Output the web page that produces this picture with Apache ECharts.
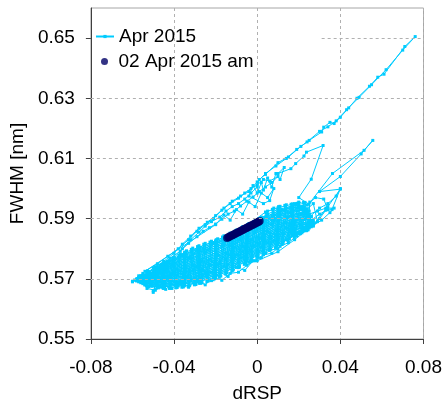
<!DOCTYPE html>
<html><head><meta charset="utf-8">
<script src="https://cdn.jsdelivr.net/npm/echarts@6/dist/echarts.min.js"></script>
<style>html,body{margin:0;padding:0;background:#fff}#c{width:445px;height:408px}</style>
</head><body><div id="c"></div>
<script>
const seriesNames = ['Apr 2015', '02 Apr 2015 am'];
const xTicks = [-0.08, -0.04, 0, 0.04, 0.08];
const yTicks = [0.55, 0.57, 0.59, 0.61, 0.63, 0.65];
const yGridFull = [0.57, 0.59, 0.61, 0.63];
const yGridTop = [[0.031, 0.65], [0.08, 0.65]];

// Apr 2015 (light blue), [dRSP, FWHM]
const aprPoints = [
[-0.020,0.576],[-0.025,0.572],[-0.030,0.574],[-0.035,0.570],[-0.040,0.572],[-0.045,0.569],[-0.050,0.566],[-0.047,0.570],[-0.052,0.572],[-0.056,0.571],[-0.060,0.569],
[-0.058,0.5695],[-0.054,0.5680],[-0.050,0.5700],[-0.046,0.5672],[-0.042,0.5698],[-0.038,0.5676],[-0.034,0.5705],[-0.030,0.5682],[-0.026,0.5712],[-0.022,0.5694],[-0.018,0.5722],[-0.014,0.5708],[-0.010,0.5738],[-0.006,0.5728],[-0.002,0.5760],[0.002,0.5770],[0.006,0.5795],[0.010,0.5800],[0.014,0.5830],[0.018,0.5845],[0.022,0.5868],[0.026,0.5880],[0.029,0.5890],
[0.027,0.5950],[0.023,0.5925],[0.019,0.5935],[0.015,0.5905],[0.011,0.5915],[0.007,0.5880],[0.003,0.5892],[-0.001,0.5855],[-0.005,0.5868],[-0.009,0.5830],[-0.013,0.5842],[-0.017,0.5808],[-0.021,0.5818],[-0.025,0.5788],[-0.029,0.5795],[-0.033,0.5768],[-0.037,0.5775],[-0.041,0.5750],[-0.045,0.5752],[-0.049,0.5730],[-0.053,0.5722],[-0.057,0.5710],[-0.060,0.5692],
[-0.0550,0.5718],[-0.0535,0.5684],[-0.0520,0.5724],[-0.0505,0.5675],[-0.0490,0.5740],[-0.0475,0.5670],[-0.0460,0.5748],[-0.0445,0.5668],[-0.0430,0.5758],[-0.0415,0.5669],[-0.0400,0.5772],[-0.0385,0.5671],[-0.0370,0.5783],[-0.0355,0.5673],[-0.0340,0.5793],[-0.0325,0.5677],[-0.0310,0.5802],[-0.0295,0.5681],[-0.0280,0.5810],[-0.0265,0.5687],[-0.0250,0.5818],[-0.0235,0.5693],[-0.0220,0.5825],[-0.0205,0.5700],[-0.0190,0.5833],[-0.0175,0.5709],[-0.0160,0.5843],[-0.0145,0.5720],[-0.0130,0.5852],[-0.0115,0.5730],[-0.0100,0.5862],[-0.0085,0.5741],[-0.0070,0.5873],[-0.0055,0.5753],[-0.0040,0.5884],[-0.0025,0.5763],[-0.0010,0.5892],[0.0005,0.5774],[0.0020,0.5905],[0.0035,0.5786],[0.0050,0.5925],[0.0065,0.5798],[0.0080,0.5935],[0.0095,0.5808],[0.0110,0.5941],[0.0125,0.5820],[0.0140,0.5946],[0.0155,0.5832],[0.0170,0.5949],[0.0185,0.5843],[0.0200,0.5952],[0.0215,0.5853],[0.0230,0.5954],[0.0245,0.5863],
[0.0253,0.5955],[0.0238,0.5860],[0.0223,0.5954],[0.0208,0.5850],[0.0193,0.5951],[0.0178,0.5838],[0.0163,0.5948],[0.0148,0.5827],[0.0133,0.5944],[0.0118,0.5815],[0.0103,0.5940],[0.0088,0.5803],[0.0073,0.5931],[0.0058,0.5794],[0.0043,0.5918],[0.0028,0.5782],[0.0013,0.5898],[-0.0002,0.5771],[-0.0017,0.5889],[-0.0032,0.5758],[-0.0047,0.5880],[-0.0062,0.5748],[-0.0077,0.5868],[-0.0092,0.5737],[-0.0107,0.5858],[-0.0122,0.5726],[-0.0137,0.5848],[-0.0152,0.5716],[-0.0167,0.5839],[-0.0182,0.5705],[-0.0197,0.5830],[-0.0212,0.5697],[-0.0227,0.5822],[-0.0242,0.5691],[-0.0257,0.5815],[-0.0272,0.5685],[-0.0287,0.5807],[-0.0302,0.5680],[-0.0317,0.5798],[-0.0332,0.5675],[-0.0347,0.5789],[-0.0362,0.5672],[-0.0377,0.5778],[-0.0392,0.5670],[-0.0407,0.5768],[-0.0422,0.5668],[-0.0437,0.5755],[-0.0452,0.5668],[-0.0467,0.5745],[-0.0482,0.5671],[-0.0497,0.5737],[-0.0512,0.5678],[-0.0527,0.5727],[-0.0542,0.5688],
[-0.052,0.5674],[-0.035,0.5677],[-0.020,0.5706],[-0.005,0.5759],[0.010,0.5814],[0.022,0.5858],
[0.024,0.5863],[0.010,0.5820],[-0.005,0.5765],[-0.020,0.5712],[-0.035,0.5683],[-0.053,0.5677],
[-0.054,0.5680],[-0.035,0.5688],[-0.020,0.5717],[-0.005,0.5770],[0.010,0.5826],[0.023,0.5867],
[0.025,0.5872],[0.010,0.5832],[-0.005,0.5776],[-0.020,0.5724],[-0.035,0.5694],[-0.055,0.5684],
[-0.056,0.5687],[-0.035,0.5698],[-0.020,0.5729],[-0.005,0.5781],[0.010,0.5837],[0.024,0.5876],
[0.026,0.5880],[0.010,0.5844],[-0.005,0.5788],[-0.020,0.5735],[-0.035,0.5704],[-0.057,0.5690],
[-0.058,0.5693],[-0.035,0.5709],[-0.020,0.5740],[-0.005,0.5793],[0.010,0.5849],[0.025,0.5884],
[0.027,0.5889],[0.010,0.5856],[-0.005,0.5799],[-0.020,0.5747],[-0.035,0.5715],[-0.058,0.5696],
[-0.057,0.5699],[-0.035,0.5719],[-0.020,0.5752],[-0.005,0.5804],[0.010,0.5861],[0.026,0.5893],
[0.025,0.5898],[0.010,0.5867],[-0.005,0.5810],[-0.020,0.5758],[-0.035,0.5725],[-0.056,0.5703],
[-0.055,0.5706],[-0.035,0.5730],[-0.020,0.5763],[-0.005,0.5815],[0.010,0.5872],[0.024,0.5902],
[0.026,0.5907],[0.010,0.5879],[-0.005,0.5821],[-0.020,0.5770],[-0.035,0.5735],[-0.054,0.5710],
[-0.053,0.5713],[-0.035,0.5740],[-0.020,0.5775],[-0.005,0.5826],[0.010,0.5884],[0.025,0.5911],
[0.024,0.5916],[0.010,0.5891],[-0.005,0.5833],[-0.020,0.5781],[-0.035,0.5746],[-0.052,0.5716],
[-0.051,0.5719],[-0.035,0.5751],[-0.020,0.5786],[-0.005,0.5838],[0.010,0.5896],[0.023,0.5920],
[0.025,0.5925],[0.010,0.5902],[-0.005,0.5844],[-0.020,0.5793],[-0.035,0.5756],[-0.050,0.5722],
[-0.049,0.5726],[-0.035,0.5761],[-0.020,0.5798],[-0.005,0.5849],[0.010,0.5908],[0.022,0.5929],
[0.024,0.5933],[0.010,0.5914],[-0.005,0.5855],[-0.020,0.5804],[-0.035,0.5767],[-0.048,0.5732],
[-0.047,0.5736],[-0.035,0.5771],[-0.020,0.5810],[-0.005,0.5860],[0.010,0.5919],[0.021,0.5937],
[0.022,0.5942],[0.010,0.5926],[-0.005,0.5866],[-0.020,0.5816],[-0.035,0.5777],[-0.045,0.5745],
[-0.044,0.5750],[-0.035,0.5782],[-0.020,0.5821],[-0.005,0.5871],[0.005,0.5915],[0.010,0.5931],[0.020,0.5946],
[0.018,0.5950],[0.010,0.5936],[0.004,0.5922],[-0.005,0.5876],[-0.020,0.5826],[-0.035,0.5787],[-0.042,0.5760],
[-0.054,0.5687],[-0.045,0.5673],[-0.028,0.5690],[-0.012,0.5735],[0.003,0.5792],[0.017,0.5844],[0.023,0.5865],
[0.025,0.5869],[0.017,0.5849],[0.003,0.5798],[-0.012,0.5741],[-0.028,0.5696],[-0.045,0.5676],[-0.055,0.5689],
[-0.056,0.5691],[-0.045,0.5680],[-0.028,0.5701],[-0.012,0.5747],[0.003,0.5803],[0.017,0.5854],[0.026,0.5873],
[0.024,0.5878],[0.017,0.5859],[0.003,0.5809],[-0.012,0.5752],[-0.028,0.5707],[-0.045,0.5684],[-0.057,0.5693],
[-0.058,0.5694],[-0.045,0.5688],[-0.028,0.5713],[-0.012,0.5758],[0.003,0.5814],[0.017,0.5864],[0.027,0.5882],
[0.025,0.5886],[0.017,0.5869],[0.003,0.5820],[-0.012,0.5764],[-0.028,0.5719],[-0.045,0.5692],[-0.059,0.5696],
[-0.057,0.5698],[-0.045,0.5695],[-0.028,0.5724],[-0.012,0.5770],[0.003,0.5826],[0.017,0.5874],[0.026,0.5890],
[0.027,0.5894],[0.017,0.5879],[0.003,0.5831],[-0.012,0.5775],[-0.028,0.5730],[-0.045,0.5699],[-0.056,0.5700],
[-0.055,0.5702],[-0.045,0.5703],[-0.028,0.5736],[-0.012,0.5781],[0.003,0.5837],[0.017,0.5884],[0.025,0.5899],
[0.024,0.5903],[0.017,0.5890],[0.003,0.5842],[-0.012,0.5787],[-0.028,0.5741],[-0.045,0.5707],[-0.057,0.5703],
[-0.056,0.5705],[-0.045,0.5710],[-0.028,0.5747],[-0.012,0.5793],[0.003,0.5848],[0.017,0.5895],[0.026,0.5907],
[0.025,0.5911],[0.017,0.5900],[0.003,0.5854],[-0.012,0.5798],[-0.028,0.5753],[-0.045,0.5714],[-0.054,0.5707],
[-0.053,0.5709],[-0.045,0.5718],[-0.028,0.5759],[-0.012,0.5804],[0.003,0.5859],[0.017,0.5905],[0.024,0.5915],
[0.023,0.5920],[0.017,0.5910],[0.003,0.5865],[-0.012,0.5810],[-0.028,0.5764],[-0.045,0.5722],[-0.052,0.5711],
[-0.051,0.5712],[-0.045,0.5726],[-0.028,0.5770],[-0.012,0.5816],[0.003,0.5871],[0.017,0.5915],[0.024,0.5924],
[0.022,0.5928],[0.017,0.5920],[0.003,0.5876],[-0.012,0.5821],[-0.028,0.5776],[-0.045,0.5729],[-0.050,0.5714],
[-0.049,0.5720],[-0.045,0.5733],[-0.028,0.5781],[-0.012,0.5827],[0.003,0.5882],[0.017,0.5925],[0.023,0.5932],
[0.022,0.5936],[0.017,0.5930],[0.003,0.5887],[-0.012,0.5833],[-0.028,0.5787],[-0.045,0.5737],[-0.048,0.5725],
[-0.047,0.5732],[-0.040,0.5760],[-0.028,0.5793],[-0.012,0.5839],[0.003,0.5893],[0.017,0.5935],[0.021,0.5940],
[0.020,0.5944],[0.017,0.5940],[0.003,0.5899],[-0.012,0.5844],[-0.028,0.5799],[-0.040,0.5765],[-0.046,0.5740],
[-0.044,0.5752],[-0.028,0.5804],[-0.012,0.5849],[0.003,0.5904],[0.017,0.5944],[0.019,0.5948],
[-0.055,0.5700],[-0.051,0.5715],[-0.047,0.5700],[-0.043,0.5728],[-0.039,0.5712],[-0.035,0.5742],[-0.031,0.5725],[-0.027,0.5760],[-0.023,0.5745],[-0.019,0.5780],[-0.015,0.5765],[-0.011,0.5805],[-0.007,0.5790],[-0.003,0.5830],[0.001,0.5815],[0.005,0.5858],[0.009,0.5845],[0.013,0.5888],[0.017,0.5875],[0.021,0.5915],[0.025,0.5905],[0.030,0.5935],[0.034,0.5950],[0.038,0.5975],[0.040,0.6000],
[0.036,0.5930],[0.033,0.5928],[0.030,0.5900],[0.027,0.5875],[0.024,0.5880],[0.020,0.5850],[0.016,0.5860],[0.012,0.5815],[0.008,0.5828],[0.004,0.5785],[0.000,0.5798],[-0.004,0.5755],[-0.008,0.5770],[-0.012,0.5728],[-0.016,0.5742],[-0.020,0.5702],[-0.024,0.5718],[-0.028,0.5685],[-0.032,0.5700],[-0.036,0.5675],[-0.040,0.5690],[-0.044,0.5665],[-0.048,0.5675],[-0.050,0.5655],
[-0.047,0.5735],[-0.044,0.5755],[-0.040,0.5745],[-0.036,0.5780],[-0.032,0.5768],[-0.028,0.5805],[-0.024,0.5795],[-0.020,0.5825],[-0.016,0.5815],[-0.012,0.5850],[-0.008,0.5842],[-0.004,0.5878],[0.000,0.5868],[0.004,0.5905],[0.008,0.5895],[0.012,0.5930],[0.016,0.5920],[0.020,0.5955],[0.024,0.5945],[0.028,0.5970],[0.032,0.5965],[0.034,0.5930],
[0.030,0.5915],[0.026,0.5895],[0.022,0.5898],[0.018,0.5865],[0.014,0.5870],[0.010,0.5835],[0.006,0.5840],[0.002,0.5805],[-0.002,0.5810],[-0.006,0.5775],[-0.010,0.5780],[-0.014,0.5748],[-0.018,0.5752],[-0.022,0.5722],[-0.026,0.5728],[-0.030,0.5700],[-0.034,0.5708],[-0.038,0.5688],[-0.042,0.5712],[-0.046,0.5690],[-0.052,0.5705],[-0.056,0.5695],
[-0.053,0.5668],[-0.049,0.5662],[-0.045,0.5678],[-0.041,0.5668],[-0.037,0.5690],[-0.033,0.5672],[-0.029,0.5695],[-0.025,0.5680],[-0.021,0.5705],[-0.017,0.5695],[-0.013,0.5718],[-0.009,0.5722],[-0.005,0.5745],[-0.001,0.5760],[0.003,0.5780],[0.007,0.5785],[0.011,0.5808],[0.015,0.5820],[0.019,0.5842],[0.023,0.5860],[0.027,0.5878],[0.031,0.5895],[0.035,0.5920],[0.037,0.5935],[0.033,0.5935],
[0.029,0.5925],[0.025,0.5915],[0.021,0.5880],[0.017,0.5895],[0.013,0.5850],[0.009,0.5862],[0.005,0.5820],[0.001,0.5835],[-0.003,0.5792],[-0.007,0.5808],[-0.011,0.5768],[-0.015,0.5785],[-0.019,0.5745],[-0.023,0.5765],[-0.027,0.5728],[-0.031,0.5745],[-0.035,0.5712],[-0.039,0.5732],[-0.043,0.5705],[-0.047,0.5722],[-0.051,0.5690],[-0.055,0.5712],
[-0.058,0.5700],[-0.050,0.5715],[-0.044,0.5745],[-0.040,0.5770],[-0.036,0.5800],[-0.032,0.5830],[-0.028,0.5855],[-0.025,0.5875],[-0.022,0.5890],[-0.018,0.5905],[-0.015,0.5925],[-0.012,0.5940],[-0.009,0.5950],[-0.006,0.5965],[-0.003,0.5985],[0.000,0.6005],[0.001,0.6030],[0.004,0.6047],[0.010,0.6086],[0.015,0.6105],[0.021,0.6140],[0.025,0.6160],[0.031,0.6188],[0.032,0.6204],[0.035,0.6220],[0.037,0.6216],[0.040,0.6237],[0.044,0.6268],[0.048,0.6300],[0.054,0.6340],[0.058,0.6370],[0.061,0.6380],[0.071,0.6472],[0.076,0.6505],
[0.070,0.6460],[0.062,0.6395],[0.055,0.6345],[0.049,0.6303],[0.043,0.6262],[0.038,0.6225],[0.034,0.6205],[0.030,0.6190],[0.024,0.6155],[0.019,0.6130],[0.014,0.6100],[0.009,0.6075],[0.004,0.6050],[0.000,0.6022],[-0.004,0.5990],[-0.008,0.5975],[-0.012,0.5958],[-0.016,0.5935],[-0.020,0.5910],[-0.024,0.5888],[-0.028,0.5868],[-0.032,0.5842],[-0.036,0.5815],[-0.040,0.5785],[-0.045,0.5758],[-0.050,0.5735],
[-0.056,0.5705],[-0.048,0.5740],[-0.042,0.5768],[-0.037,0.5792],[-0.033,0.5818],[-0.029,0.5840],[-0.026,0.5858],[-0.023,0.5870],[-0.020,0.5882],[-0.017,0.5898],[-0.014,0.5915],[-0.011,0.5925],[-0.008,0.5942],[-0.005,0.5958],[-0.002,0.5972],[0.001,0.5990],[0.004,0.6005],[0.007,0.6020],[0.010,0.6040],[0.006,0.6025],[0.003,0.6030],[0.000,0.6012],[-0.003,0.6000],[-0.006,0.5985],[-0.009,0.5968],[-0.013,0.5950],[-0.017,0.5928],[-0.021,0.5900],[-0.025,0.5880],[-0.029,0.5858],[-0.033,0.5830],[-0.038,0.5800],[-0.043,0.5775],[-0.048,0.5750],[-0.054,0.5725],
[-0.020,0.5880],[-0.016,0.5912],[-0.013,0.5895],[-0.010,0.5930],[-0.007,0.5915],[-0.004,0.5955],[-0.001,0.5940],[0.002,0.5985],[0.005,0.5970],[0.008,0.6000],[0.006,0.5960],[0.003,0.5950],
[-0.004,0.5975],[-0.002,0.6010],[0.000,0.5985],[0.002,0.6020],[0.003,0.5995],[0.005,0.6035],[0.007,0.6005],[0.009,0.6050],[0.011,0.6030],[0.013,0.6070],
[0.010,0.6050],[0.0162,0.6066],[0.0185,0.6083],[0.0225,0.6108],[0.0237,0.6121],[0.0317,0.6143],[0.026,0.6031],[0.020,0.5970],
[0.0248,0.5948],[0.0362,0.6050],[0.0514,0.6127],[0.0556,0.6160],[0.0500,0.6115],[0.040,0.6040],[0.030,0.5990],[0.040,0.5998],[0.034,0.5940],[0.027,0.5880],[0.018,0.5830],[0.010,0.5790],[0.000,0.5760]
];

// 02 Apr 2015 am (navy)
const amX = [-0.0145,-0.0139,-0.0134,-0.0128,-0.0122,-0.0117,-0.0111,-0.0105,-0.0100,-0.0094,-0.0088,-0.0083,-0.0077,-0.0071,-0.0066,-0.0060,-0.0054,-0.0049,-0.0043,-0.0037,-0.0032,-0.0026,-0.0020,-0.0015,-0.0009,-0.0003,0.0002,0.0007,0.0012];
const amY = [0.5836,0.5838,0.5840,0.5842,0.5844,0.5846,0.5848,0.5850,0.5852,0.5854,0.5856,0.5858,0.5860,0.5862,0.5864,0.5866,0.5868,0.5870,0.5872,0.5874,0.5876,0.5878,0.5880,0.5882,0.5884,0.5886,0.5888,0.5890,0.5892];

const font = '"Liberation Sans", Arial, sans-serif';
const chart = echarts.init(document.getElementById('c'), null, {renderer: 'canvas'});
const legendText = {fontSize: 19, color: '#000', fontFamily: font};
chart.setOption({
  animation: false,
  backgroundColor: '#fff',
  textStyle: {fontFamily: font},
  grid: {left: 83, top: 8, width: 341, height: 332, show: true, borderColor: '#a6a6a6', borderWidth: 1, backgroundColor: 'transparent'},
  legend: [
    {data: [seriesNames[0]], orient: 'vertical', left: 90, top: 22, itemWidth: 18, itemHeight: 4, textStyle: legendText},
    {data: [seriesNames[1]], orient: 'vertical', left: 96, top: 47, itemWidth: 18, itemHeight: 7, textStyle: legendText}
  ],
  xAxis: {
    type: 'value', min: xTicks[0], max: xTicks[xTicks.length - 1], interval: 0.04,
    name: 'dRSP', nameLocation: 'middle', nameGap: 45,
    nameTextStyle: {fontSize: 19, color: '#000', fontFamily: font},
    axisLine: {show: true, onZero: false, lineStyle: {color: '#404040', width: 1}},
    axisTick: {show: true, length: 5, lineStyle: {color: '#404040'}},
    axisLabel: {fontSize: 19, color: '#000', margin: 19, fontFamily: font, formatter: v => String(+v.toFixed(2))},
    splitLine: {show: true, lineStyle: {color: '#b0b0b0', type: [3, 3], width: 1}}
  },
  yAxis: {
    type: 'value', min: yTicks[0], max: 0.66,
    name: 'FWHM [nm]', nameLocation: 'middle', nameGap: 53,
    nameTextStyle: {fontSize: 19, color: '#000', fontFamily: font},
    axisLine: {show: true, onZero: false, lineStyle: {color: '#404040', width: 1}},
    axisTick: {show: true, length: 5, customValues: yTicks, lineStyle: {color: '#404040'}},
    axisLabel: {fontSize: 19, color: '#000', margin: 16, fontFamily: font, customValues: yTicks, formatter: v => v.toFixed(2)},
    splitLine: {show: false}
  },
  series: [
    {
      type: 'line', name: 'grid', data: [], z: 1, silent: true,
      markLine: {
        silent: true, symbol: 'none', label: {show: false}, animation: false,
        lineStyle: {color: '#b0b0b0', type: [3, 3], width: 1},
        data: yGridFull.map(v => ({yAxis: v})).concat([[{coord: yGridTop[0]}, {coord: yGridTop[1]}]])
      }
    },
    {
      type: 'line', name: seriesNames[0], data: aprPoints, z: 2,
      symbol: 'rect', symbolSize: 3, showSymbol: true,
      lineStyle: {color: '#00ccff', width: 1},
      itemStyle: {color: '#00ccff'}
    },
    {
      type: 'scatter', name: seriesNames[1], z: 3,
      data: amX.map((x, i) => [x, amY[i]]),
      symbol: 'circle', symbolSize: 8,
      itemStyle: {color: '#000066'}
    }
  ]
});
</script></body></html>
